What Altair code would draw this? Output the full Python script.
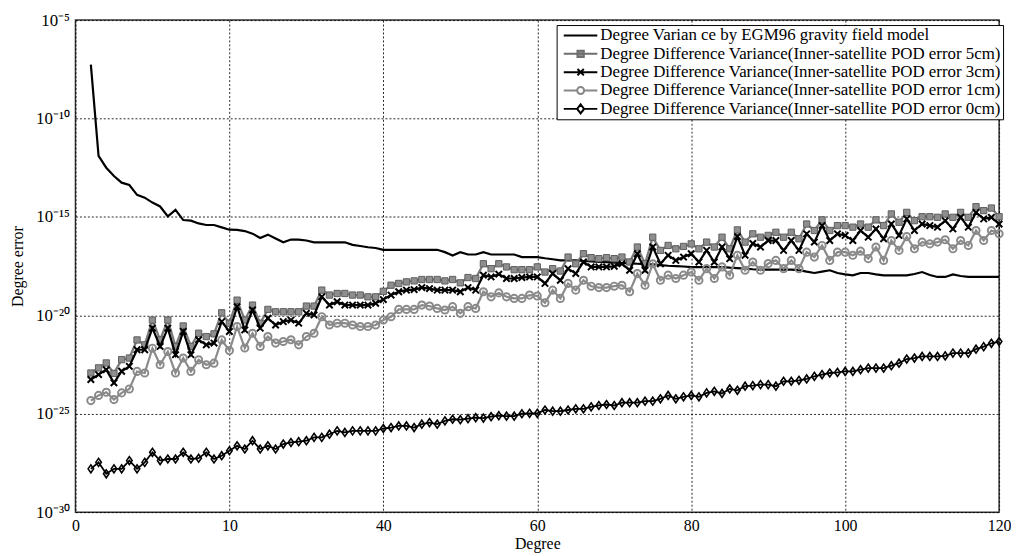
import altair as alt
import pandas as pd

# Degree axis (2..120)
DEGREES = list(range(2, 121))

# log10 of the degree (difference) variance
EGM96 = [-7.26, -11.9, -12.5, -12.92, -13.26, -13.38, -13.88, -14.02, -14.27, -14.47,
         -14.97, -14.64, -15.16, -15.19, -15.33, -15.41, -15.41, -15.53, -15.65, -15.66,
         -15.72, -15.85, -16.07, -15.90, -16.10, -16.29, -16.15, -16.15, -16.20, -16.29,
         -16.29, -16.29, -16.29, -16.29, -16.42, -16.48, -16.54, -16.58, -16.67, -16.67,
         -16.67, -16.67, -16.67, -16.67, -16.67, -16.67, -16.79, -16.96, -16.79, -16.91,
         -16.91, -16.79, -16.91, -16.91, -16.91, -16.91, -17.04, -17.04, -17.04, -17.10,
         -17.15, -17.21, -17.21, -17.21, -17.24, -17.26, -17.28, -17.30, -17.32, -17.34,
         -17.36, -17.38, -17.40, -17.41, -17.45, -17.48, -17.50, -17.52, -17.55, -17.55,
         -17.55, -17.55, -17.55, -17.58, -17.60, -17.63, -17.66, -17.68, -17.68, -17.68,
         -17.68, -17.68, -17.70, -17.78, -17.85, -17.78, -17.71, -17.85, -17.92, -17.97,
         -17.85, -17.85, -17.92, -17.97, -17.97, -17.97, -17.97, -17.90, -17.80, -17.95,
         -18.05, -18.05, -17.92, -18.00, -18.05, -18.05, -18.05, -18.05, -18.05]

POD_5CM = [-22.93, -22.67, -22.42, -22.95, -22.25, -22.17, -21.25, -21.50, -20.24, -21.25,
           -20.24, -21.58, -20.54, -21.58, -20.91, -21.08, -20.94, -19.87, -20.40, -19.23,
           -20.24, -19.48, -20.40, -19.70, -19.82, -19.82, -19.82, -19.82, -19.53, -19.53,
           -18.72, -18.97, -18.89, -18.89, -18.97, -18.97, -19.06, -19.06, -18.78, -18.47,
           -18.38, -18.30, -18.25, -18.18, -18.18, -18.18, -18.25, -18.18, -18.35, -18.08,
           -18.13, -17.38, -17.63, -17.38, -17.54, -17.68, -17.68, -17.68, -17.54, -17.80,
           -17.63, -17.75, -17.04, -17.38, -16.87, -17.07, -17.12, -17.07, -17.12, -17.04,
           -17.29, -16.53, -17.38, -16.03, -16.70, -16.45, -16.62, -16.50, -16.37, -16.62,
           -16.28, -16.53, -16.03, -16.62, -15.66, -16.28, -15.86, -16.03, -15.94, -15.78,
           -16.03, -15.78, -16.11, -15.36, -15.69, -15.15, -15.69, -15.44, -15.44, -15.52,
           -15.36, -15.52, -15.15, -15.44, -14.85, -15.27, -14.77, -15.19, -14.99, -14.99,
           -15.02, -14.85, -15.02, -14.77, -15.02, -14.48, -14.68, -14.55, -14.99]

POD_3CM = [-23.26, -23.01, -22.76, -23.43, -22.84, -22.59, -21.75, -21.75, -20.65, -21.58,
           -20.65, -22.00, -20.82, -22.00, -21.24, -21.50, -21.41, -20.32, -20.82, -19.56,
           -20.74, -19.73, -20.65, -20.15, -20.49, -20.32, -20.24, -20.40, -19.90, -19.98,
           -19.06, -19.48, -19.31, -19.48, -19.48, -19.48, -19.48, -19.39, -19.20, -18.97,
           -18.80, -18.72, -18.69, -18.59, -18.64, -18.72, -18.72, -18.72, -18.80, -18.59,
           -18.72, -17.96, -18.05, -17.91, -18.13, -18.13, -18.08, -18.05, -18.05, -18.38,
           -17.88, -18.22, -17.63, -17.88, -17.29, -17.54, -17.54, -17.54, -17.51, -17.38,
           -17.71, -16.87, -17.71, -16.53, -17.38, -16.95, -17.21, -17.04, -16.87, -17.29,
           -16.70, -17.29, -16.53, -17.12, -16.00, -16.95, -16.35, -16.53, -16.20, -16.20,
           -16.70, -16.20, -16.70, -15.86, -16.28, -15.44, -16.20, -15.86, -15.94, -16.20,
           -15.69, -16.03, -15.61, -16.11, -15.36, -15.94, -15.10, -15.69, -15.36, -15.44,
           -15.52, -15.19, -15.61, -15.02, -15.52, -14.77, -15.10, -15.02, -15.36]

POD_1CM = [-24.33, -24.07, -23.91, -24.28, -23.94, -23.74, -22.85, -22.93, -21.67, -22.51,
           -21.84, -22.93, -22.17, -22.85, -22.26, -22.51, -22.43, -21.25, -21.79, -20.57,
           -21.66, -20.91, -21.58, -21.08, -21.41, -21.33, -21.24, -21.50, -21.08, -20.91,
           -20.07, -20.49, -20.40, -20.40, -20.49, -20.57, -20.57, -20.49, -20.24, -20.07,
           -19.70, -19.70, -19.70, -19.48, -19.53, -19.65, -19.73, -19.56, -19.90, -19.56,
           -19.65, -18.80, -19.06, -18.86, -19.06, -19.14, -19.14, -18.97, -19.02, -19.36,
           -18.72, -19.14, -18.38, -18.72, -18.22, -18.52, -18.59, -18.59, -18.52, -18.47,
           -18.80, -17.88, -18.47, -17.38, -18.22, -17.96, -18.13, -17.96, -17.80, -18.22,
           -17.63, -18.13, -17.54, -17.96, -16.95, -17.71, -17.29, -17.71, -17.37, -17.21,
           -17.63, -17.21, -17.63, -16.79, -17.04, -16.45, -17.21, -16.79, -16.79, -16.95,
           -16.74, -17.12, -16.53, -17.21, -16.20, -16.70, -16.00, -16.62, -16.28, -16.37,
           -16.28, -16.16, -16.62, -16.20, -16.45, -15.69, -16.20, -15.69, -15.86]

POD_0CM = [-27.80, -27.47, -28.05, -27.80, -27.80, -27.38, -27.80, -27.47, -26.96, -27.38,
           -27.30, -27.30, -26.96, -27.30, -27.26, -26.96, -27.30, -27.13, -26.88, -26.63,
           -26.79, -26.37, -26.79, -26.63, -26.79, -26.54, -26.46, -26.42, -26.37, -26.20,
           -26.20, -26.04, -25.87, -25.95, -25.87, -25.87, -25.87, -25.87, -25.75, -25.70,
           -25.62, -25.62, -25.70, -25.53, -25.45, -25.53, -25.36, -25.28, -25.30, -25.25,
           -25.20, -25.22, -25.15, -25.10, -25.12, -25.12, -25.00, -24.98, -24.98, -24.81,
           -24.87, -24.87, -24.81, -24.75, -24.75, -24.65, -24.58, -24.53, -24.58, -24.44,
           -24.44, -24.44, -24.36, -24.36, -24.24, -24.07, -24.24, -24.14, -24.07, -24.14,
           -23.94, -23.86, -23.97, -23.74, -23.81, -23.60, -23.57, -23.52, -23.52, -23.60,
           -23.35, -23.35, -23.30, -23.23, -23.10, -23.01, -22.93, -22.90, -22.85, -22.85,
           -22.76, -22.68, -22.68, -22.68, -22.56, -22.43, -22.22, -22.17, -22.09, -22.09,
           -22.09, -22.06, -21.92, -21.92, -21.92, -21.72, -21.59, -21.42, -21.33]

SERIES_NAMES = [
    "Degree Varian ce by EGM96 gravity field model",
    "Degree Difference Variance(Inner-satellite POD error 5cm)",
    "Degree Difference Variance(Inner-satellite POD error 3cm)",
    "Degree Difference Variance(Inner-satellite POD error 1cm)",
    "Degree Difference Variance(Inner-satellite POD error 0cm)",
]
SERIES_LOG = [EGM96, POD_5CM, POD_3CM, POD_1CM, POD_0CM]

X_TICKS = [0, 20, 40, 60, 80, 100, 120]
X_TICK_LABELS = ["0", "10", "40", "60", "80", "100", "120"]
Y_TICK_EXP = [-30, -25, -20, -15, -10, -5]
Y_TICK_LABELS = ["10⁻³⁰", "10⁻²⁵", "10⁻²⁰", "10⁻¹⁵", "10⁻¹⁰", "10⁻⁵"]

rows = []
for name, logs in zip(SERIES_NAMES, SERIES_LOG):
    for d, e in zip(DEGREES, logs):
        rows.append({"degree": d, "series": name, "value": 10.0 ** e})
df = pd.DataFrame(rows)

FONT = "Liberation Serif"

x_expr = " : ".join(
    f"datum.value == {v} ? '{l}'" for v, l in zip(X_TICKS, X_TICK_LABELS)
) + " : datum.label"
y_expr = ""
for e, l in zip(Y_TICK_EXP, Y_TICK_LABELS):
    y_expr += f"datum.value < {10.0 ** (e + 0.5)} ? '{l}' : "
y_expr += "''"

x_enc = alt.X("degree:Q",
              scale=alt.Scale(domain=[0, 120], nice=False, zero=False),
              axis=alt.Axis(values=X_TICKS, labelExpr=x_expr, title="Degree",
                            grid=True, ticks=False, domain=False, labelPadding=5,
                            labelFontSize=16, titlePadding=3, labelFlush=False))
y_enc = alt.Y("value:Q",
              scale=alt.Scale(type="log", domain=[1e-30, 1e-5], nice=False),
              axis=alt.Axis(values=[10.0 ** e for e in Y_TICK_EXP], labelExpr=y_expr,
                            title="Degree error", grid=True, ticks=False, domain=False,
                            labelPadding=6, titlePadding=10))

base = alt.Chart(df)


def sel(name):
    return base.transform_filter(alt.datum.series == name)


egm_line = sel(SERIES_NAMES[0]).mark_line(color="black", strokeWidth=2.2).encode(x=x_enc, y=y_enc)

l5 = sel(SERIES_NAMES[1]).mark_line(color="#7a7a7a", strokeWidth=2.3).encode(x=x_enc, y=y_enc)
p5 = sel(SERIES_NAMES[1]).mark_point(shape="square", filled=True, size=40, color="#8e8e8e",
                                     stroke="#5e5e5e", strokeWidth=1, opacity=1).encode(x=x_enc, y=y_enc)

l3 = sel(SERIES_NAMES[2]).mark_line(color="black", strokeWidth=2.2).encode(x=x_enc, y=y_enc)
p3 = sel(SERIES_NAMES[2]).mark_point(shape="M-1,-1L1,1M-1,1L1,-1", filled=False, size=42,
                                     color="black", strokeWidth=2, opacity=1).encode(x=x_enc, y=y_enc)

l1 = sel(SERIES_NAMES[3]).mark_line(color="#8a8a8a", strokeWidth=2.2).encode(x=x_enc, y=y_enc)
p1 = sel(SERIES_NAMES[3]).mark_point(shape="circle", filled=False, size=52, color="#8a8a8a",
                                     strokeWidth=2, opacity=1).encode(x=x_enc, y=y_enc)

l0 = sel(SERIES_NAMES[4]).mark_line(color="black", strokeWidth=1.8).encode(x=x_enc, y=y_enc)
p0 = sel(SERIES_NAMES[4]).mark_point(shape="M-0.7,0L0,-1L0.7,0L0,1Z", filled=False, size=64,
                                     color="black", strokeWidth=1.6, opacity=1).encode(x=x_enc, y=y_enc)

# legend-only layer (no rows drawn)
LEG_PATHS = [
    "M-0.66,0H6.1",
    "M-0.66,0H6.1M2.1,-0.64H3.38V0.64H2.1Z",
    "M-0.66,0H6.1M2.1,-0.64L3.38,0.64M2.1,0.64L3.38,-0.64",
    "M-0.66,0H2.04M3.44,0H6.1M2.04,0A0.7,0.7 0 1,1 3.44,0A0.7,0.7 0 1,1 2.04,0Z",
    "M-0.66,0H2.04M3.44,0H6.1M2.04,0L2.74,-0.9L3.44,0L2.74,0.9Z",
]
LEG_STROKES = ["black", "#6e6e6e", "black", "#888888", "black"]
LEG_FILLS = ["transparent", "#8e8e8e", "transparent", "transparent", "transparent"]

leg = alt.Legend(title=None, orient="none", legendX=485, legendY=5,
                 symbolSize=100, symbolStrokeWidth=2, labelOffset=25,
                 labelFont=FONT, labelFontSize=17, labelColor="black", labelLimit=600,
                 fillColor="white", strokeColor="black", padding=2, rowPadding=0.5)

legend_layer = base.transform_filter("false").mark_point(opacity=1, strokeWidth=2).encode(
    x=x_enc, y=y_enc,
    stroke=alt.Stroke("series:N", scale=alt.Scale(domain=SERIES_NAMES, range=LEG_STROKES), legend=leg),
    fill=alt.Fill("series:N", scale=alt.Scale(domain=SERIES_NAMES, range=LEG_FILLS), legend=leg),
    shape=alt.Shape("series:N", scale=alt.Scale(domain=SERIES_NAMES, range=LEG_PATHS), legend=leg),
)

chart = alt.layer(egm_line, l5, p5, l3, p3, l1, p1, l0, p0, legend_layer).properties(
    width=931, height=496,
    autosize=alt.AutoSizeParams(type="none"),
    padding={"left": 68, "top": 10, "right": 12, "bottom": 41},
).configure(font=FONT).configure_view(
    stroke="#333333", strokeWidth=1.5
).configure_axis(
    labelFont=FONT, labelFontSize=17, labelColor="black",
    titleFont=FONT, titleFontSize=16, titleFontWeight="normal", titleColor="black",
    gridColor="black", gridDash=[2, 2], gridOpacity=0.85, gridWidth=1,
)

chart.save("out.html", embed_options={"renderer": "svg", "actions": False})
